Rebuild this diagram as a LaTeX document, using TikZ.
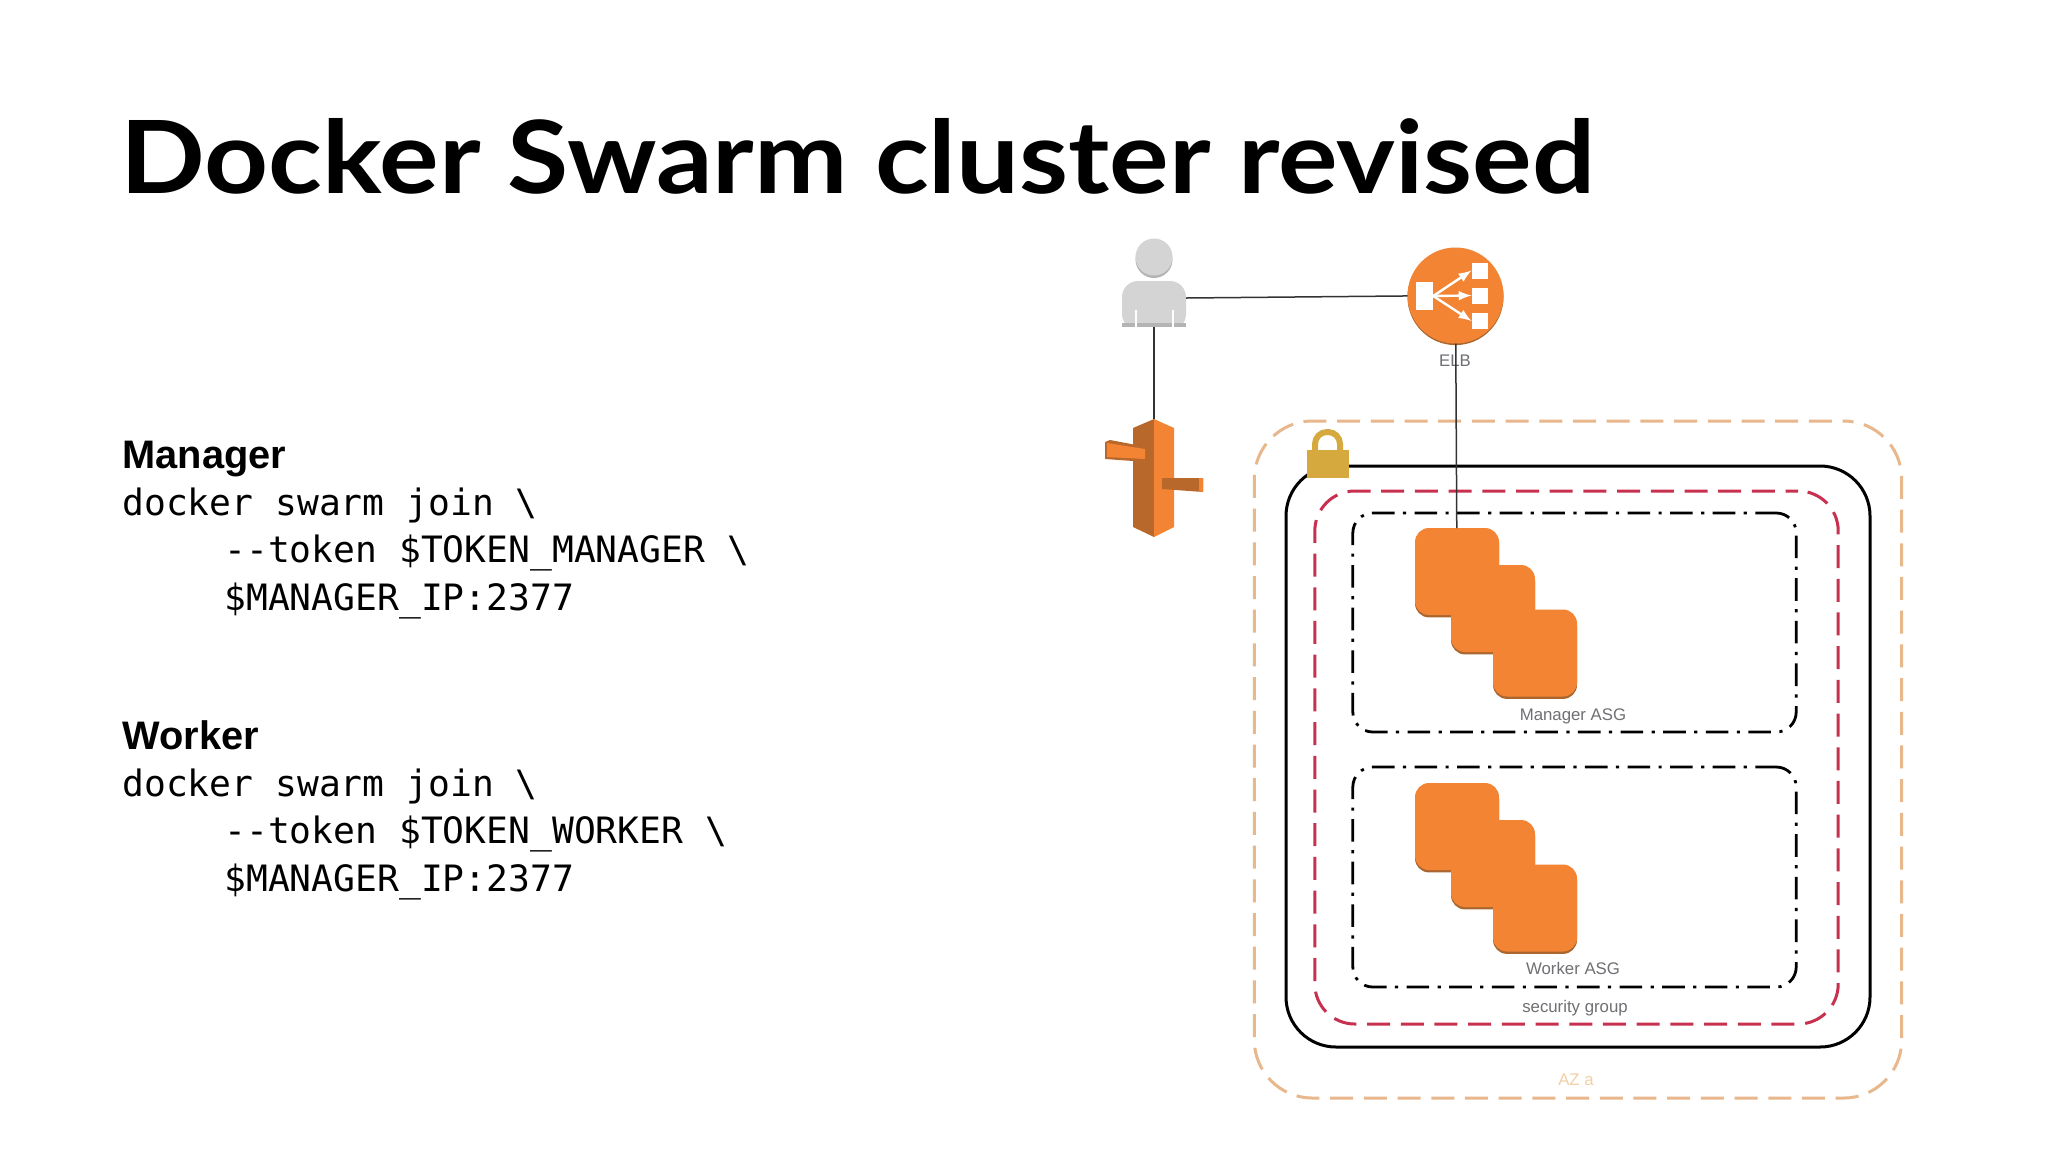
\documentclass[tikz,border=0pt]{standalone}
\usepackage{fontspec}
\setmainfont{Liberation Sans}
\newfontfamily\titlefont{Lato}[FakeStretch=1.105]
\newfontfamily\codefont{DejaVu Sans Mono}
\usepackage{tikz}
\usetikzlibrary{shadows}
\definecolor{awsorange}{HTML}{F38434}
\definecolor{awsshade}{HTML}{A9672F}
\definecolor{awsdark}{HTML}{B9682B}
\definecolor{aztan}{HTML}{E8B88C}
\definecolor{sgred}{HTML}{C8304F}
\definecolor{lockgold}{HTML}{D6A93F}
\definecolor{usergray}{HTML}{D4D4D4}
\definecolor{usershade}{HTML}{B4B4B4}
\definecolor{labelgray}{HTML}{6F6F74}
\definecolor{azlabel}{HTML}{F2CFA6}
\tikzset{
  frame/.style={shape=rectangle,draw,inner sep=0pt,outer sep=0pt},
  azframe/.style={frame,draw=aztan,line width=1.5pt,rounded corners=29pt,dash pattern=on 11.5pt off 5.35pt,dash phase=10.95pt},
  vpcframe/.style={frame,line width=1.5pt,rounded corners=25pt},
  sgframe/.style={frame,draw=sgred,line width=1.5pt,rounded corners=20pt,dash pattern=on 11.5pt off 5.35pt,dash phase=5.2pt},
  asgframe/.style={frame,line width=1.4pt,rounded corners=10pt,dash pattern=on 11.3pt off 4.2pt on 1.6pt off 4.2pt,dash phase=0.85pt},
  asgblock/.style={shape=rectangle,fill=awsorange,inner sep=0pt,outer sep=0pt,minimum width=42pt,minimum height=43.5pt,rounded corners=7pt,
    general shadow={shadow xshift=0pt,shadow yshift=-1.2pt,fill=awsshade}},
  elbsquare/.style={shape=rectangle,fill=white,inner sep=0pt,outer sep=0pt,minimum size=8pt},
  smalltext/.style={text=labelgray,font=\fontsize{8.4}{10}\selectfont,inner sep=0pt},
  headtext/.style={anchor=base west,inner sep=0pt,font=\fontsize{19.9}{24}\selectfont\bfseries},
  codetext/.style={anchor=base west,inner sep=0pt,font=\fontsize{18.15}{22}\selectfont\codefont},
  link/.style={draw=black!80,line width=0.75pt},
}
\begin{document}
\begin{tikzpicture}[x=0.5pt,y=-0.5pt]
\useasboundingbox (0,0) rectangle (2048,1152);
\fill[white] (0,0) rectangle (2048,1152);

\path (120,193) node (title) [anchor=base west,inner sep=0pt,font=\fontsize{50.5}{60}\selectfont\titlefont\bfseries] {Docker Swarm cluster revised};

\path (122,468) node (manager) [headtext] {Manager};
\path (122,515) node (mgrcmd) [codetext] {docker swarm join \textbackslash};
\path (224,562) node (mgrtoken) [codetext] {-{}-token \$TOKEN\_MANAGER \textbackslash};
\path (224,610) node (mgrip) [codetext] {\$MANAGER\_IP:2377};
\path (122,749) node (worker) [headtext] {Worker};
\path (122,796) node (wkrcmd) [codetext] {docker swarm join \textbackslash};
\path (224,843) node (wkrtoken) [codetext] {-{}-token \$TOKEN\_WORKER \textbackslash};
\path (224,891) node (wkrip) [codetext] {\$MANAGER\_IP:2377};

\path (1578,759.5) node (az) [azframe,minimum width=323.7pt,minimum height=338.5pt] {};
\path (1578,756.5) node (vpc) [vpcframe,minimum width=292pt,minimum height=290.5pt] {};
\path (1576.5,757.5) node (sg) [sgframe,minimum width=261.7pt,minimum height=266.5pt] {};
\path (1574.5,622.5) node (mgrasg) [asgframe,minimum width=221.7pt,minimum height=109.5pt] {};
\path (1574.5,877) node (wkrasg) [asgframe,minimum width=221.7pt,minimum height=110pt] {};

\path (1457,571.5) node (mgrone) [asgblock] {};
\path (1493,608.5) node (mgrtwo) [asgblock] {};
\path (1535,653) node (mgrthree) [asgblock] {};
\path (1457,826.5) node (wkrone) [asgblock] {};
\path (1493,863.5) node (wkrtwo) [asgblock] {};
\path (1535,908) node (wkrthree) [asgblock] {};

\path (1573,716) node (mgrlabel) [smalltext] {Manager ASG};
\path (1573,968) node (wkrlabel) [smalltext] {Worker ASG};
\path (1575,1008) node (sglabel) [smalltext] {security group};
\path (1576,1080) node (azlabel) [smalltext,text=azlabel] {AZ a};

% lock
\draw[lockgold,line width=3pt,rounded corners=6pt] (1315,452) -- (1315,432) -- (1340,432) -- (1340,452);
\path (1328,464) node (lock) [shape=rectangle,fill=lockgold,inner sep=0pt,minimum width=21pt,minimum height=14pt] {};

% user
\fill[usershade] (1154,259.5) circle (18.5);
\fill[usergray] (1154,257) circle (18.5);
\fill[usergray,rounded corners=8pt] (1122,330) -- (1122,281) -- (1186,281) -- (1186,330) -- cycle;
\fill[white] (1118,327) rectangle (1190,334);
\fill[usershade] (1122,323) rectangle (1186,327);
\draw[white,line width=0.8pt] (1136,310) -- (1136,327) (1173,310) -- (1173,327);
\coordinate (userside) at (1186,298);
\coordinate (userfoot) at (1154,327);

% gateway
\fill[awsdark] (1154,419) -- (1133,428) -- (1133,527) -- (1154,537) -- cycle;
\fill[awsorange] (1154,419) -- (1174,428) -- (1174,527) -- (1154,537) -- cycle;
\fill[awsdark] (1105,442) -- (1110,440) -- (1147,447) -- (1147,462) -- (1105,459) -- cycle;
\fill[awsorange] (1107,443) -- (1145,449) -- (1145,459) -- (1107,457) -- cycle;
\fill[awsdark] (1162,478) -- (1203,478) -- (1203,492) -- (1162,489) -- cycle;
\fill[awsorange] (1199,478) -- (1203,478) -- (1203,492) -- (1199,491.5) -- cycle;
\coordinate (gatetop) at (1154,419);

% elb
\path (1455.5,295.5) node (elb) [shape=circle,fill=awsorange,inner sep=0pt,outer sep=0pt,minimum size=48pt,
  general shadow={shadow xshift=0pt,shadow yshift=-0.8pt,fill=awsshade}] {};
\path (1424.5,296) node (elbin) [elbsquare,minimum width=8.75pt,minimum height=14pt] {};
\path (1479.5,270.5) node (elbtop) [elbsquare] {};
\path (1479.5,295.5) node (elbmid) [elbsquare] {};
\path (1479.5,321) node (elbbot) [elbsquare] {};
\path (1455,361) node (elblabel) [smalltext] {ELB};
\draw [-latex,white,line width=1.2pt] (elbin.east) to (elbtop.west);
\draw [-latex,white,line width=1.2pt] (elbin.east) to (elbmid.west);
\draw [-latex,white,line width=1.2pt] (elbin.east) to (elbbot.west);

\draw [link] (userside) to (elb);
\draw [link] (userfoot) to (gatetop);
\draw [link] (elb) to (mgrone);
\end{tikzpicture}
\end{document}
